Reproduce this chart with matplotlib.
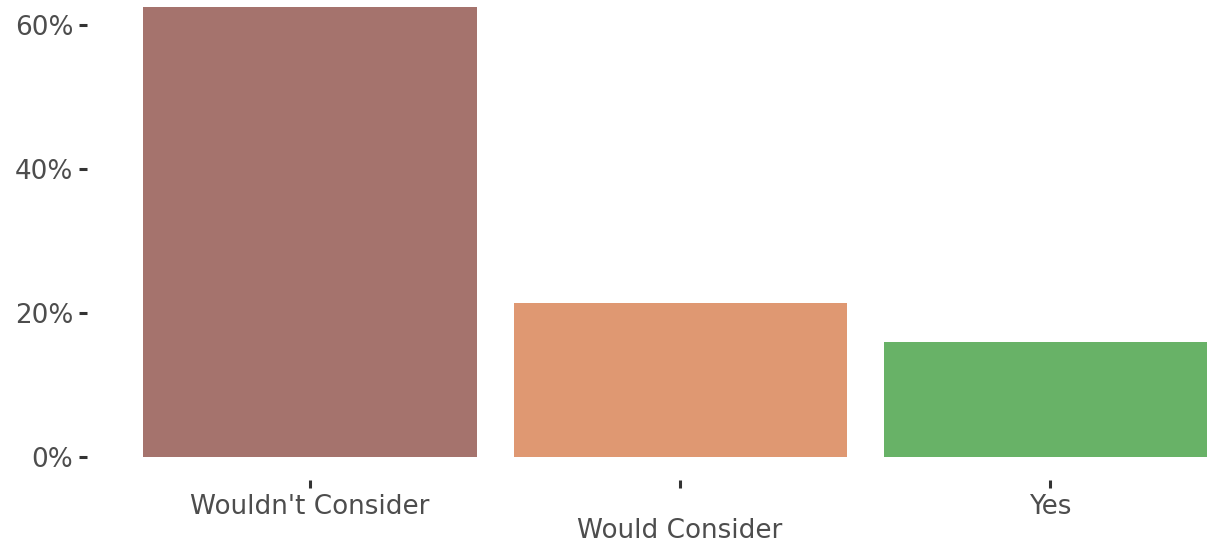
import matplotlib
matplotlib.use("Agg")
import matplotlib.pyplot as plt
from matplotlib.ticker import FuncFormatter

categories = ["Wouldn't Consider", "Would Consider", "Yes"]
values = [62.5, 21.4, 16.0]
colors = ["#A5736D", "#DF9872", "#68B267"]
yticks = [0, 20, 40, 60]

W, H = 1207, 545
fig = plt.figure(figsize=(W / 100, H / 100), dpi=100)
left_px, bottom_px = 105, 457
ax = fig.add_axes([left_px / W, (H - bottom_px) / H, 1 - left_px / W, bottom_px / H])

ax.bar(range(len(categories)), values, width=0.9, color=colors)
ax.set_xlim((left_px - 310) / 370, (W - 310) / 370)
ax.set_ylim(0, bottom_px / 7.2)
ax.set_yticks(yticks)
ax.yaxis.set_major_formatter(FuncFormatter(lambda v, p: f"{v:.0f}%"))
ax.set_xticks(range(len(categories)))
ax.set_xticklabels(categories)

for s in ax.spines.values():
    s.set_visible(False)
ax.spines['bottom'].set_position(('outward', 16.5))
ax.spines['left'].set_position(('outward', 13.2))

ax.tick_params(axis='both', colors='#333333', labelcolor='#4D4D4D', labelsize=18.9,
               length=5.5, width=2.2)
ax.tick_params(axis='y', pad=4)
ax.tick_params(axis='x', pad=5)
ax.xaxis.get_major_ticks()[1].set_pad(5 + 17)

fig.savefig("out.png", dpi=100, facecolor="white")
